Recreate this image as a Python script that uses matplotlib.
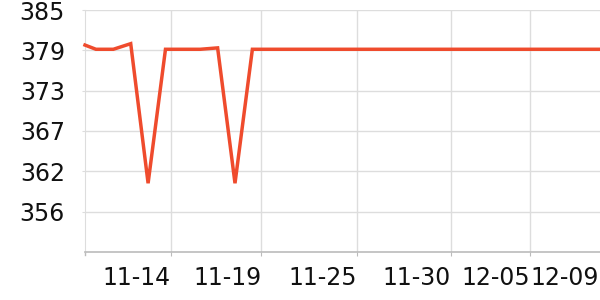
import matplotlib
matplotlib.use("Agg")
import matplotlib.pyplot as plt

# sample positions (days since first sample) and values
x_days = [0.0] + [k - 0.37 for k in range(1, 31)]
values = [380.0, 379.4, 379.4, 380.2, 360.3, 379.4, 379.4, 379.4, 379.6, 360.3,
          379.4] + [379.4] * 20

# axis ticks
xtick_pos = [4.95, 10.13, 15.65, 21.06, 25.60, 29.55]
xtick_labels = ["11-14", "11-19", "11-25", "11-30", "12-05", "12-09"]
ytick_vals = [356.25, 362.0, 367.75, 373.5, 379.25, 385.0]
ytick_labels = ["356", "362", "367", "373", "379", "385"]

fig = plt.figure(figsize=(6, 3), dpi=100)
ax = fig.add_axes([85 / 600, 48 / 300, 515 / 600, 242 / 300])

ax.plot(x_days, values, color="#ef4b2d", lw=2.5, solid_joinstyle="miter", zorder=3, clip_on=False)

ax.set_xlim(0, 29.63)
ax.set_ylim(350.5, 385.0)

ax.set_yticks(ytick_vals)
ax.set_yticklabels(ytick_labels)
ax.set_xticks(xtick_pos)
ax.set_xticklabels(xtick_labels, ha="right")

ax.grid(True, color="#dddddd", lw=1)
ax.set_axisbelow(True)
for s in ["top", "right"]:
    ax.spines[s].set_visible(False)
ax.spines["left"].set_color("#dddddd")
ax.spines["bottom"].set_color("#bbbbbb")
ax.spines["bottom"].set_linewidth(1.2)

ax.tick_params(axis="y", length=2, color="#dddddd", pad=12.5, labelsize=17, labelcolor="#111111")
ax.tick_params(axis="x", length=3, color="#bbbbbb", pad=7, labelsize=17, labelcolor="#111111")
# hide the tick of the last label position (it sits at the right edge)
ax.xaxis.get_major_ticks()[-1].tick1line.set_visible(False)
ax.xaxis.get_major_ticks()[-1].gridline.set_visible(False)
# tick at axis origin too
ax.axvline(0, ymin=-0.012, ymax=0, color="#bbbbbb", lw=1, clip_on=False)

fig.savefig("out.png", dpi=100)
